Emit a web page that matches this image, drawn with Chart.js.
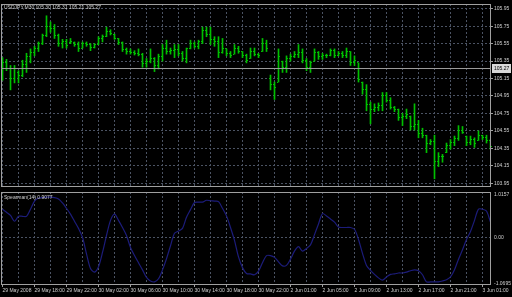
<!DOCTYPE html>
<html>
<head>
<meta charset="utf-8">
<script src="https://cdn.jsdelivr.net/npm/chart.js@4"></script>
<style>
html, body { margin: 0; padding: 0; background: #000; }
#wrap { position: relative; width: 512px; height: 297px; overflow: hidden; background: #000; }
canvas { position: absolute; left: 0; }
#price { top: 0; }
#spear { top: 191px; }
</style>
</head>
<body>
<div id="wrap">
  <canvas id="price" width="512" height="191"></canvas>
  <canvas id="spear" width="512" height="106"></canvas>
</div>
<script>
// USDJPY M30, one entry per bar (bar 0 = 29 May 2008 14:00)
var chartTitle = 'USDJPY,M30 105.30 105.31 105.21 105.27';
var spearTitle = 'Spearman(14) 0.9077';
var bidPrice = 105.27;
var timeLabels = ['29 May 2008', '29 May 18:00', '29 May 22:00', '30 May 02:00', '30 May 06:00',
  '30 May 10:00', '30 May 14:00', '30 May 18:00', '30 May 22:00', '2 Jun 01:00', '2 Jun 05:00',
  '2 Jun 09:00', '2 Jun 13:00', '2 Jun 17:00', '2 Jun 21:00', '3 Jun 01:00'];
var priceTicks = [105.95, 105.75, 105.55, 105.35, 105.15, 104.95, 104.75, 104.55, 104.35, 104.15, 103.95];
var spearTicks = [1.0157, 0, -1.0695];
var spearTickLabels = ['1.0157', '0.00', '-1.0695'];

var opens = [105.30,105.33,105.27,105.15,105.22,105.18,105.31,105.40,105.45,105.50,
  105.55,105.64,105.75,105.72,105.64,105.55,105.57,105.56,105.56,105.54,
  105.50,105.55,105.54,105.51,105.54,105.61,105.63,105.69,105.66,105.61,
  105.56,105.48,105.46,105.45,105.44,105.43,105.32,105.35,105.38,105.30,
  105.40,105.50,105.46,105.47,105.48,105.44,105.38,105.49,105.55,105.52,
  105.57,105.70,105.66,105.60,105.58,105.45,105.49,105.44,105.43,105.50,
  105.46,105.41,105.38,105.46,105.43,105.46,105.55,105.15,105.08,105.11,
  105.35,105.28,105.38,105.40,105.43,105.45,105.36,105.28,105.35,105.45,
  105.40,105.42,105.41,105.47,105.42,105.44,105.42,105.46,105.33,105.33,
  105.11,105.02,104.85,104.80,104.82,104.84,104.95,104.90,104.82,104.79,
  104.70,104.72,104.72,104.60,104.62,104.52,104.50,104.41,104.43,104.20,
  104.25,104.30,104.38,104.42,104.46,104.55,104.49,104.42,104.45,104.44,
  104.50,104.47,104.44];
var highs = [105.39,105.37,105.30,105.30,105.24,105.36,105.44,105.49,105.52,105.57,
  105.66,105.87,105.80,105.77,105.66,105.60,105.60,105.61,105.57,105.57,
  105.57,105.57,105.55,105.55,105.63,105.65,105.74,105.71,105.66,105.61,
  105.57,105.50,105.49,105.47,105.49,105.44,105.38,105.49,105.39,105.43,
  105.54,105.59,105.50,105.54,105.54,105.46,105.50,105.59,105.57,105.59,
  105.74,105.74,105.74,105.63,105.63,105.61,105.49,105.46,105.54,105.52,
  105.46,105.43,105.50,105.50,105.44,105.61,105.59,105.19,105.11,105.49,
  105.35,105.41,105.43,105.46,105.54,105.49,105.38,105.35,105.49,105.46,
  105.44,105.43,105.49,105.49,105.46,105.46,105.50,105.46,105.41,105.33,
  105.11,105.08,104.88,104.86,104.87,104.99,104.99,104.93,104.83,104.80,
  104.75,104.80,104.72,104.86,104.67,104.58,104.50,104.45,104.50,104.30,
  104.28,104.41,104.45,104.49,104.61,104.60,104.49,104.49,104.47,104.55,
  104.50,104.50,104.45];
var lows = [105.13,105.24,105.02,105.10,105.10,105.17,105.22,105.33,105.41,105.46,
  105.54,105.63,105.68,105.61,105.52,105.50,105.50,105.55,105.52,105.46,
  105.50,105.52,105.47,105.50,105.54,105.57,105.63,105.65,105.60,105.54,
  105.46,105.43,105.43,105.42,105.41,105.28,105.28,105.33,105.23,105.26,
  105.35,105.43,105.43,105.39,105.41,105.35,105.33,105.49,105.50,105.49,
  105.55,105.63,105.54,105.52,105.39,105.44,105.41,105.39,105.43,105.44,
  105.39,105.33,105.38,105.41,105.39,105.46,105.46,105.02,104.91,105.11,
  105.22,105.22,105.35,105.39,105.39,105.33,105.24,105.22,105.35,105.37,
  105.37,105.39,105.41,105.39,105.41,105.39,105.39,105.30,105.30,105.11,
  104.97,104.78,104.63,104.77,104.78,104.78,104.88,104.80,104.77,104.67,
  104.61,104.69,104.56,104.56,104.47,104.47,104.30,104.39,104.00,104.14,
  104.19,104.30,104.34,104.38,104.44,104.52,104.38,104.39,104.36,104.44,
  104.45,104.41,104.34];
var closes = [105.33,105.27,105.15,105.26,105.18,105.31,105.40,105.45,105.50,105.55,
  105.64,105.75,105.72,105.64,105.55,105.57,105.53,105.58,105.54,105.50,
  105.55,105.54,105.51,105.54,105.61,105.63,105.69,105.67,105.61,105.56,
  105.48,105.46,105.45,105.44,105.43,105.32,105.35,105.38,105.30,105.40,
  105.50,105.46,105.47,105.48,105.44,105.38,105.49,105.55,105.52,105.57,
  105.70,105.66,105.60,105.58,105.45,105.50,105.44,105.42,105.50,105.46,
  105.41,105.36,105.46,105.43,105.42,105.55,105.50,105.08,105.05,105.40,
  105.28,105.38,105.40,105.43,105.45,105.36,105.28,105.33,105.45,105.40,
  105.42,105.41,105.47,105.42,105.44,105.42,105.46,105.33,105.36,105.14,
  105.02,104.85,104.80,104.82,104.84,104.95,104.90,104.82,104.79,104.70,
  104.72,104.74,104.60,104.62,104.52,104.50,104.41,104.43,104.20,104.25,
  104.26,104.38,104.42,104.46,104.55,104.53,104.42,104.45,104.40,104.50,
  104.47,104.44,104.37];
var spearman = [0.63,0.56,0.49,0.36,0.47,0.47,0.47,0.63,0.81,0.88,
  0.89,0.90,0.90,0.89,0.86,0.77,0.65,0.52,0.36,0.20,
  0.00,-0.37,-0.70,-0.78,-0.66,-0.34,0.04,0.38,0.52,0.38,
  0.22,0.04,-0.23,-0.41,-0.57,-0.73,-0.90,-0.98,-1.00,-0.93,
  -0.73,-0.48,-0.19,0.09,0.14,0.20,0.45,0.62,0.78,0.79,
  0.79,0.83,0.82,0.81,0.80,0.65,0.48,0.22,-0.07,-0.44,
  -0.68,-0.81,-0.82,-0.84,-0.76,-0.57,-0.41,-0.41,-0.45,-0.55,
  -0.64,-0.63,-0.49,-0.31,-0.21,-0.31,-0.25,-0.17,0.06,0.30,
  0.53,0.48,0.41,0.34,0.23,0.22,0.22,0.22,0.18,-0.05,
  -0.36,-0.63,-0.74,-0.83,-0.91,-0.96,-0.89,-0.83,-0.82,-0.80,
  -0.80,-0.78,-0.75,-0.73,-0.75,-0.84,-1.00,-1.00,-1.00,-1.00,
  -0.98,-0.95,-0.89,-0.73,-0.49,-0.28,-0.05,0.13,0.38,0.63,
  0.63,0.59,0.34];

var FONT = { family: '"Liberation Sans", Arial, sans-serif', size: 5 };
var TEXT = '#d0d0d0';
var GRID = '#4b5363';
var FRAME = '#a0a0a0';
var GREEN = '#00c000';
var NAVY = '#1c1c7a';

function timeAxis(withLabels) {
  return {
    type: 'linear', min: -0.375, max: 122.125, offset: false,
    afterBuildTicks: function (scale) {
      var t = [];
      for (var v = 0; v < opens.length; v += 4) t.push({ value: v });
      scale.ticks = t;
    },
    afterFit: function (scale) { scale.height = withLabels ? 12 : 0; },
    grid: {
      offset: false, color: GRID, lineWidth: 1, drawTicks: withLabels, tickLength: 2,
      tickColor: function (c) { return c.tick && c.tick.value % 8 === 0 ? FRAME : 'transparent'; }
    },
    border: { display: false, dash: [2, 2] },
    ticks: {
      display: withLabels, autoSkip: false, maxRotation: 0, minRotation: 0, align: 'start',
      padding: 1, color: TEXT, font: FONT,
      callback: function (v) { return v % 8 === 0 ? timeLabels[v / 8] : ''; }
    }
  };
}

var frame = {
  id: 'frame',
  afterDraw: function (chart) {
    var a = chart.chartArea, c = chart.ctx;
    c.save();
    c.strokeStyle = FRAME;
    c.lineWidth = 1;
    c.strokeRect(a.left + 0.5, a.top + 0.5, a.right - a.left - 1, a.bottom - a.top - 1);
    c.restore();
  }
};

// open tick left, close tick right of each high-low bar
var ohlcTicks = {
  id: 'ohlcTicks',
  afterDatasetsDraw: function (chart) {
    var meta = chart.getDatasetMeta(0), ys = chart.scales.y, c = chart.ctx;
    c.save();
    c.fillStyle = GREEN;
    meta.data.forEach(function (bar, i) {
      var px = Math.floor(bar.x);
      c.fillRect(px - 1, Math.floor(ys.getPixelForValue(opens[i])), 1, 1);
      c.fillRect(px + 1, Math.floor(ys.getPixelForValue(closes[i])), 1, 1);
    });
    c.restore();
  }
};

var priceOverlay = {
  id: 'priceOverlay',
  afterDraw: function (chart) {
    var a = chart.chartArea, c = chart.ctx, ys = chart.scales.y;
    var y = Math.floor(ys.getPixelForValue(bidPrice)) + 0.5;
    c.save();
    c.strokeStyle = '#9a9a9a';
    c.beginPath();
    c.moveTo(a.left, y);
    c.lineTo(a.right, y);
    c.stroke();
    c.fillStyle = '#d8d8d8';
    c.fillRect(a.right + 1, y - 4.5, 19, 9);
    c.font = FONT.size + 'px ' + FONT.family;
    c.textBaseline = 'middle';
    c.fillStyle = '#000';
    c.fillText(bidPrice.toFixed(2), a.right + 3, y + 0.5);
    c.fillStyle = TEXT;
    c.fillText(chartTitle, a.left + 3, a.top + 4);
    c.restore();
  }
};

var spearOverlay = {
  id: 'spearOverlay',
  afterDraw: function (chart) {
    var a = chart.chartArea, c = chart.ctx, ys = chart.scales.y;
    c.save();
    c.font = FONT.size + 'px ' + FONT.family;
    c.textBaseline = 'middle';
    c.fillStyle = TEXT;
    c.fillText(spearTitle, a.left + 3, a.top + 6);
    spearTicks.forEach(function (v, k) {
      var y = Math.min(Math.max(ys.getPixelForValue(v), a.top + 3), a.bottom - 1);
      c.fillText(spearTickLabels[k], a.right + 3, y);
    });
    c.restore();
  }
};

var common = {
  responsive: false, animation: false, devicePixelRatio: 1, events: [],
  layout: { padding: { left: 1, top: 1, right: 0, bottom: 0 }, autoPadding: false },
  plugins: { legend: { display: false }, tooltip: { enabled: false } }
};

new Chart(document.getElementById('price'), {
  type: 'bar',
  data: {
    datasets: [{
      data: opens.map(function (o, i) { return { x: i, y: [lows[i], highs[i]] }; }),
      backgroundColor: GREEN, borderWidth: 0, barThickness: 1
    }]
  },
  options: Object.assign({}, common, {
    scales: {
      x: timeAxis(false),
      y: {
        position: 'right', min: 103.9058, max: 106.0052,
        afterBuildTicks: function (s) { s.ticks = priceTicks.map(function (v) { return { value: v }; }); },
        afterFit: function (s) { s.width = 21; },
        grid: { color: GRID, tickLength: 2, tickColor: FRAME },
        border: { display: false, dash: [2, 2] },
        ticks: { color: TEXT, font: FONT, padding: 1, callback: function (v) { return v.toFixed(2); } }
      }
    }
  }),
  plugins: [ohlcTicks, frame, priceOverlay]
});

new Chart(document.getElementById('spear'), {
  type: 'line',
  data: {
    datasets: [{
      data: spearman.map(function (v, i) { return { x: i, y: v }; }),
      borderColor: NAVY, borderWidth: 1.2, pointRadius: 0, tension: 0.3
    }]
  },
  options: Object.assign({}, common, {
    scales: {
      x: timeAxis(true),
      y: {
        position: 'right', min: -1.0695, max: 1.0157,
        afterBuildTicks: function (s) { s.ticks = spearTicks.map(function (v) { return { value: v }; }); },
        afterFit: function (s) { s.width = 21; },
        grid: { color: function (c) { return c.tick && c.tick.value === 0 ? GRID : 'transparent'; }, drawTicks: false },
        border: { display: false, dash: [2, 2] },
        ticks: { display: false }
      }
    }
  }),
  plugins: [frame, spearOverlay]
});
</script>
</body>
</html>
